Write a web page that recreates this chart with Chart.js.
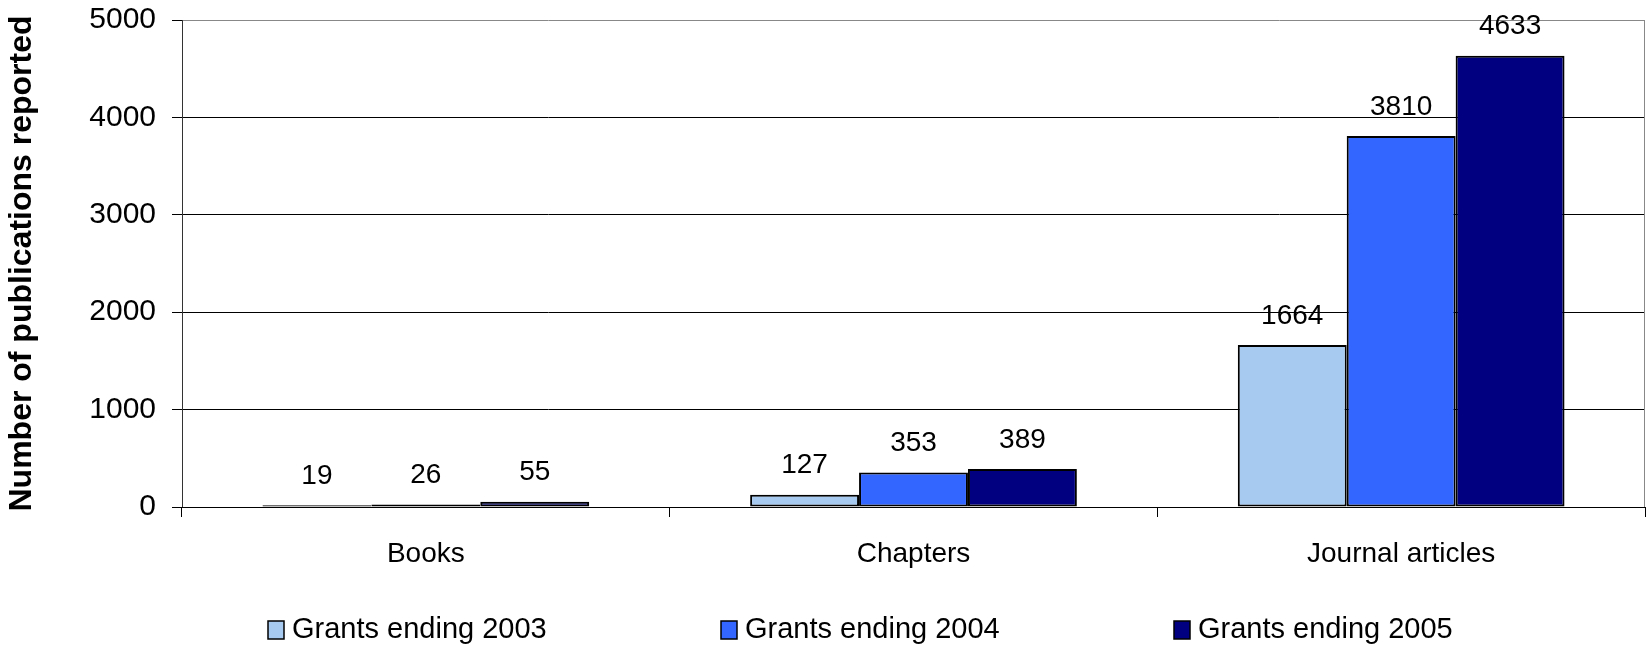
<!DOCTYPE html>
<html>
<head>
<meta charset="utf-8">
<script src="https://cdn.jsdelivr.net/npm/chart.js@4.4.1/dist/chart.umd.min.js"></script>
<style>
  html, body { margin: 0; padding: 0; background: #fff; }
  #wrap { width: 1648px; height: 647px; }
</style>
</head>
<body>
<div id="wrap"><canvas id="myChart"></canvas></div>
<script>
const categories = ['Books', 'Chapters', 'Journal articles'];
const seriesNames = ['Grants ending 2003', 'Grants ending 2004', 'Grants ending 2005'];
const grants2003 = [19, 127, 1664];
const grants2004 = [26, 353, 3810];
const grants2005 = [55, 389, 4633];
const yTicks = [0, 1000, 2000, 3000, 4000, 5000];
const colors = ['#A6CAF0', '#3366FF', '#000080'];

const FONT = "'Liberation Sans', Arial, sans-serif";

const seriesValues = [grants2003, grants2004, grants2005];
const data = {
    labels: categories,
    datasets: seriesValues.map((vals, i) => ({
        label: seriesNames[i],
        data: vals,
        backgroundColor: colors[i],
        borderColor: '#000',
        borderWidth: 2,
        borderSkipped: false,
        categoryPercentage: 0.67,
        barPercentage: 1.0
    }))
};

// value labels above each bar
const barLabels = {
    id: 'barLabels',
    afterDatasetsDraw(chart) {
        const ctx = chart.ctx;
        ctx.save();
        ctx.font = '28px ' + FONT;
        ctx.fillStyle = '#000';
        ctx.textAlign = 'center';
        ctx.textBaseline = 'middle';
        chart.data.datasets.forEach((ds, i) => {
            chart.getDatasetMeta(i).data.forEach((bar, j) => {
                ctx.fillText(String(ds.data[j]), bar.x, bar.y - 29);
            });
        });
        ctx.restore();
    }
};

// grey right edge of the plot area
const plotFrame = {
    id: 'plotFrame',
    beforeDatasetsDraw(chart) {
        const {ctx, chartArea: {top, bottom, right}} = chart;
        ctx.save();
        ctx.strokeStyle = '#888';
        ctx.lineWidth = 1;
        ctx.beginPath();
        ctx.moveTo(right - 0.5, top);
        ctx.lineTo(right - 0.5, bottom);
        ctx.stroke();
        ctx.restore();
    }
};

// legend along the bottom, spread out like the original
const wideLegend = {
    id: 'wideLegend',
    afterDraw(chart) {
        const ctx = chart.ctx;
        const y = 630;
        ctx.save();
        ctx.font = '29px ' + FONT;
        ctx.textBaseline = 'middle';
        ctx.textAlign = 'left';
        chart.data.datasets.forEach((ds, i) => {
            const x = 268 + i * 453;
            ctx.fillStyle = ds.backgroundColor;
            ctx.fillRect(x, y - 9, 16, 18);
            ctx.strokeStyle = '#000';
            ctx.lineWidth = 1.5;
            ctx.strokeRect(x, y - 9, 16, 18);
            ctx.fillStyle = '#000';
            ctx.fillText(ds.label, x + 24, y);
        });
        ctx.restore();
    }
};

const config = {
    type: 'bar',
    data,
    options: {
        responsive: true,
        maintainAspectRatio: false,
        animation: false,
        layout: { padding: { top: 20, right: 3, bottom: 55, left: 0 } },
        scales: {
            y: {
                min: 0,
                max: 5000,
                afterFit(scale) {
                    scale.width = 182;
                    scale.paddingTop = 0;
                    scale.paddingBottom = 0;
                },
                afterBuildTicks(scale) { scale.ticks = yTicks.map(v => ({ value: v })); },
                ticks: {
                    color: '#000',
                    padding: 16,
                    font: { family: FONT, size: 30 },
                    callback: (v) => String(v)
                },
                grid: {
                    color: (c) => (c.tick && c.tick.value === 5000 ? '#888' : '#000'),
                    tickLength: 10,
                    tickColor: '#000',
                    lineWidth: 1
                },
                border: { color: '#333', width: 1 },
                title: {
                    display: true,
                    text: 'Number of publications reported',
                    color: '#000',
                    font: { family: FONT, size: 32, weight: 'bold' },
                    padding: { top: 3, bottom: 0 }
                }
            },
            x: {
                offset: true,
                afterFit(scale) { scale.height = 85; },
                ticks: {
                    color: '#000',
                    padding: 20,
                    font: { family: FONT, size: 28 }
                },
                grid: {
                    offset: true,
                    drawOnChartArea: false,
                    tickLength: 10,
                    color: '#000'
                },
                border: { color: '#000', width: 1 }
            }
        },
        plugins: {
            legend: { display: false },
            tooltip: { enabled: false }
        }
    },
    plugins: [barLabels, plotFrame, wideLegend]
};

var myChart = new Chart(document.getElementById('myChart'), config);
</script>
</body>
</html>
